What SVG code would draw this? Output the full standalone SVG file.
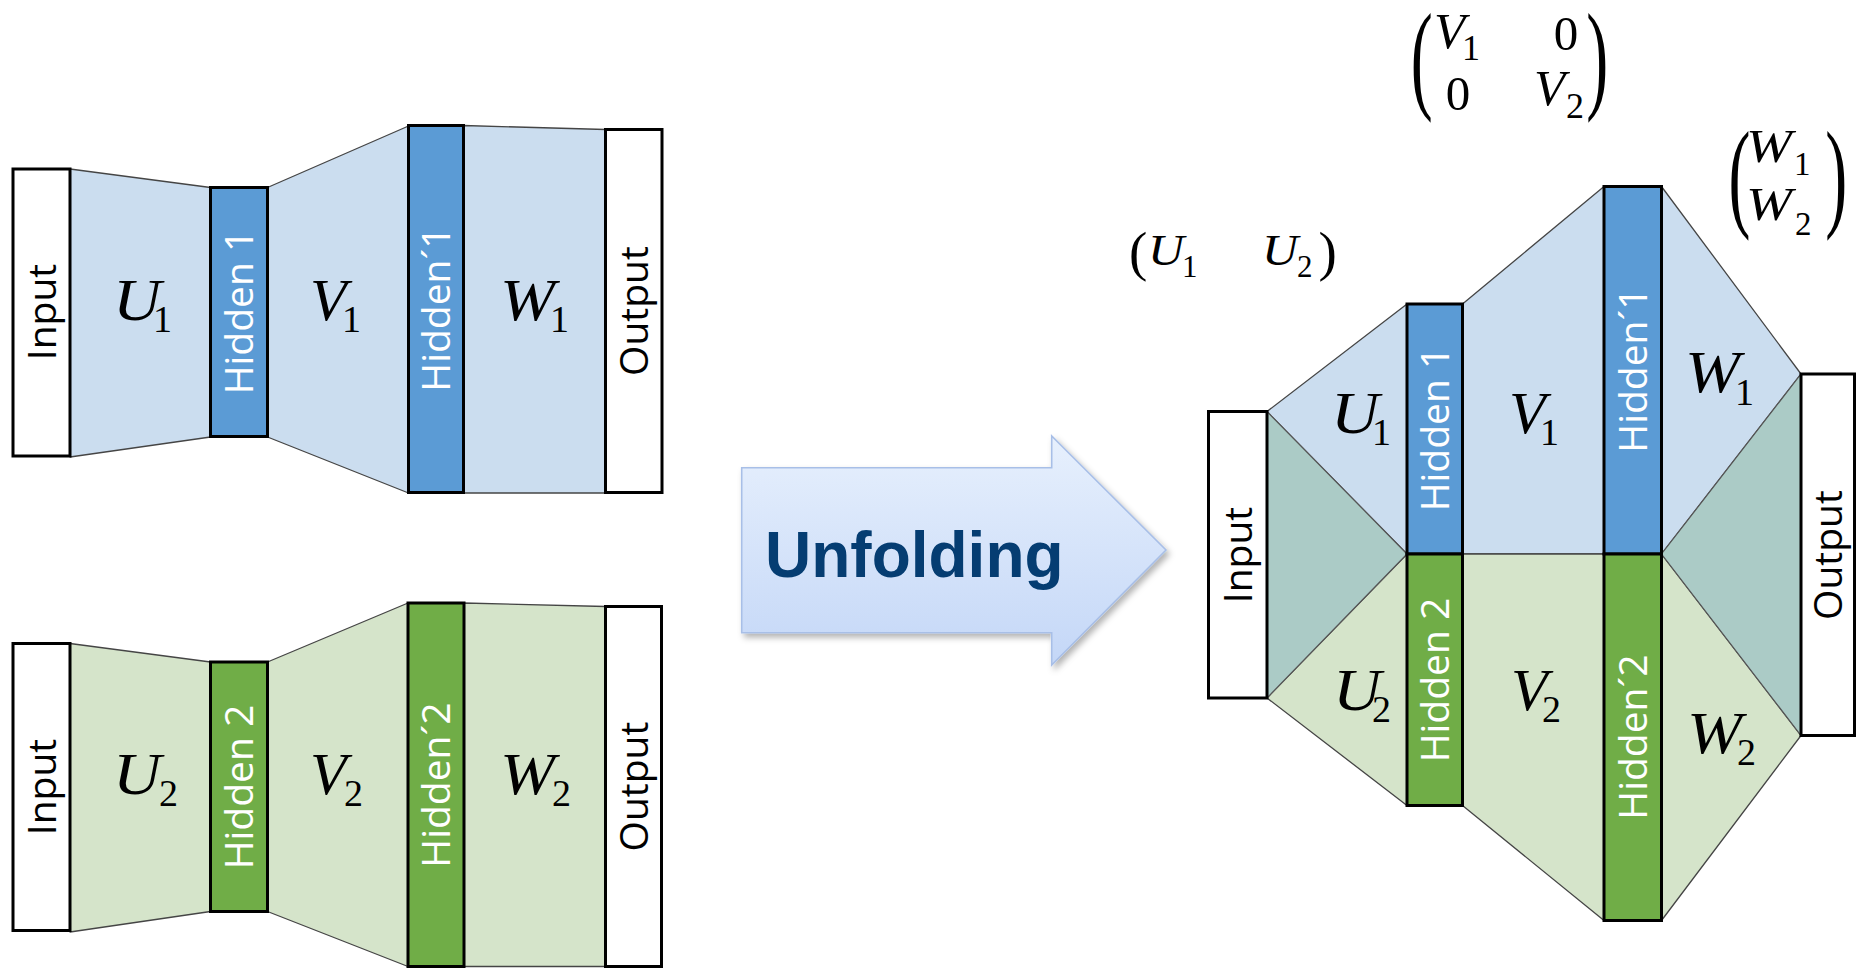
<svg xmlns="http://www.w3.org/2000/svg" width="1858" height="970" viewBox="0 0 1858 970">
  <defs>
    <linearGradient id="arrowFill" x1="0" y1="0" x2="0" y2="1">
      <stop offset="0" stop-color="#E7F0FD"/>
      <stop offset="1" stop-color="#C4D7F7"/>
    </linearGradient>
    <filter id="softShadow" x="-10%" y="-10%" width="125%" height="130%">
      <feDropShadow dx="3" dy="4" stdDeviation="3" flood-color="#000" flood-opacity="0.3"/>
    </filter>
  </defs>
  <style>
    .box { stroke: #000; stroke-width: 3; }
    .io { fill: #fff; }
    .hb { fill: #5B9BD5; }
    .hg { fill: #70AD47; }
    .wb { fill: #CBDDEF; stroke: #454545; stroke-width: 1.3; stroke-linejoin: round; }
    .wg { fill: #D5E4CA; stroke: #454545; stroke-width: 1.3; stroke-linejoin: round; }
    .wt { fill: #ABCBC6; stroke: #555; stroke-width: 1.2; stroke-linejoin: round; }
    .lbl { font-family: "Open Sans", "Noto Sans", sans-serif; font-size: 39px; text-anchor: middle; fill: #000; }
    .wht { fill: #fff; }
    .m { font-family: "Liberation Serif", "Times New Roman", serif; font-style: italic; fill: #000; }
    .n { font-family: "Liberation Serif", "Times New Roman", serif; font-style: normal; fill: #000; }
    .big { font-size: 60px; }
    .sub38 { font-size: 38px; }
    .paren { font-family: "Liberation Serif", "Times New Roman", serif; font-size: 44px; fill: #000; }
  </style>

  <rect width="1858" height="970" fill="#fff"/>

  <!-- weight layers (connectors between layers) -->
  <g id="connectors">
    <!-- network 1 -->
    <polygon class="wb" points="70,169 210.5,187.5 210.5,437 70,457"/>
    <polygon class="wb" points="267.5,187.5 408.5,126 408.5,493 267.5,437"/>
    <polygon class="wb" points="463.5,125.5 605.5,129.5 605.5,493 463.5,493"/>
    <!-- network 2 -->
    <polygon class="wg" points="70,643.5 210.5,662 210.5,911.5 70,932"/>
    <polygon class="wg" points="267.5,662 408,603 408,966.5 267.5,911.5"/>
    <polygon class="wg" points="464,603 605.5,606.5 605.5,966.5 464,966.5"/>
    <!-- unfolded network -->
    <polygon class="wb" points="1267,411.5 1407,304 1462.5,304 1604,186.5 1661.5,186.5 1801,374 1661.5,554 1407,554"/>
    <polygon class="wg" points="1267,698 1407,554 1661.5,554 1801,735.5 1661.5,920.5 1604,920.5 1462.5,805.5 1407,805.5"/>
    <polygon class="wt" points="1267,411.5 1407,554 1267,698"/>
    <polygon class="wt" points="1801,374 1661.5,554 1801,735.5"/>
  </g>

  <!-- network 1 layers -->
  <g id="n1-input">
    <rect class="box io" x="13" y="169" width="57" height="287"/>
    <text class="lbl" transform="translate(41.5 312) rotate(-90)" y="14">Input</text>
  </g>
  <g id="n1-hidden">
    <rect class="box hb" x="210.5" y="187.5" width="57" height="249"/>
    <text class="lbl wht" transform="translate(239 312) rotate(-90)" y="14">Hidden 1</text>
  </g>
  <g id="n1-hidden-prime">
    <rect class="box hb" x="408.5" y="125.5" width="55" height="367"/>
    <text class="lbl wht" transform="translate(436 309) rotate(-90)" y="14">Hidden´1</text>
  </g>
  <g id="n1-output">
    <rect class="box io" x="605.5" y="129.5" width="56.5" height="363"/>
    <text class="lbl" transform="translate(633.5 311) rotate(-90)" y="14">Output</text>
  </g>

  <!-- network 2 layers -->
  <g id="n2-input">
    <rect class="box io" x="13" y="643.5" width="57" height="287"/>
    <text class="lbl" transform="translate(41.5 787) rotate(-90)" y="14">Input</text>
  </g>
  <g id="n2-hidden">
    <rect class="box hg" x="210.5" y="662" width="57" height="249.5"/>
    <text class="lbl wht" transform="translate(239 787) rotate(-90)" y="14">Hidden 2</text>
  </g>
  <g id="n2-hidden-prime">
    <rect class="box hg" x="408" y="603" width="56" height="363.5"/>
    <text class="lbl wht" transform="translate(436 785) rotate(-90)" y="14">Hidden´2</text>
  </g>
  <g id="n2-output">
    <rect class="box io" x="605.5" y="606.5" width="56" height="360"/>
    <text class="lbl" transform="translate(633.5 786.5) rotate(-90)" y="14">Output</text>
  </g>

  <!-- weight labels, networks 1 and 2 -->
  <g id="n1-weights">
    <text class="m big" x="113" y="320" textLength="48" lengthAdjust="spacingAndGlyphs">U</text>
    <text class="n sub38" x="153" y="331.7">1</text>
    <text class="m big" x="310" y="320">V</text>
    <text class="n sub38" x="342" y="331.7">1</text>
    <text class="m big" x="500" y="320" textLength="55" lengthAdjust="spacingAndGlyphs">W</text>
    <text class="n sub38" x="550" y="331.7">1</text>
  </g>
  <g id="n2-weights">
    <text class="m big" x="113" y="794" textLength="48" lengthAdjust="spacingAndGlyphs">U</text>
    <text class="n sub38" x="159" y="806">2</text>
    <text class="m big" x="310" y="794">V</text>
    <text class="n sub38" x="344" y="806">2</text>
    <text class="m big" x="500" y="794" textLength="55" lengthAdjust="spacingAndGlyphs">W</text>
    <text class="n sub38" x="552" y="806">2</text>
  </g>

  <!-- unfolding arrow -->
  <g id="unfolding-arrow">
    <polygon points="741.7,467.7 1051.7,467.7 1051.7,436 1166,550 1051.7,665 1051.7,632.7 741.7,632.7"
             fill="url(#arrowFill)" stroke="#A8BFE7" stroke-width="1.6" filter="url(#softShadow)"/>
    <text x="765" y="577" font-family="'Liberation Sans', Arial, sans-serif" font-weight="bold" font-size="64" fill="#053D72">Unfolding</text>
  </g>

  <!-- unfolded network layers -->
  <g id="u-input">
    <rect class="box io" x="1208.5" y="411.5" width="58.5" height="286.5"/>
    <text class="lbl" transform="translate(1238 555) rotate(-90)" y="14">Input</text>
  </g>
  <g id="u-hidden1">
    <rect class="box hb" x="1407" y="304" width="55.5" height="250"/>
    <text class="lbl wht" transform="translate(1435 429) rotate(-90)" y="14">Hidden 1</text>
  </g>
  <g id="u-hidden2">
    <rect class="box hg" x="1407" y="554" width="55.5" height="251.5"/>
    <text class="lbl wht" transform="translate(1435 680) rotate(-90)" y="14">Hidden 2</text>
  </g>
  <g id="u-hidden1-prime">
    <rect class="box hb" x="1604" y="186.5" width="57.5" height="367.5"/>
    <text class="lbl wht" transform="translate(1633 370) rotate(-90)" y="14">Hidden´1</text>
  </g>
  <g id="u-hidden2-prime">
    <rect class="box hg" x="1604" y="554" width="57.5" height="366.5"/>
    <text class="lbl wht" transform="translate(1633 737) rotate(-90)" y="14">Hidden´2</text>
  </g>
  <g id="u-output">
    <rect class="box io" x="1801" y="374" width="53.5" height="361.5"/>
    <text class="lbl" transform="translate(1828 555) rotate(-90)" y="14">Output</text>
  </g>

  <!-- weight labels, unfolded network -->
  <g id="u-weights">
    <text class="m big" x="1331" y="433" textLength="48" lengthAdjust="spacingAndGlyphs">U</text>
    <text class="n sub38" x="1372" y="445">1</text>
    <text class="m big" x="1509" y="433">V</text>
    <text class="n sub38" x="1540" y="445">1</text>
    <text class="m big" x="1685" y="392" textLength="55" lengthAdjust="spacingAndGlyphs">W</text>
    <text class="n sub38" x="1735" y="405">1</text>
    <text class="m big" x="1333" y="710" textLength="48" lengthAdjust="spacingAndGlyphs">U</text>
    <text class="n sub38" x="1372" y="721.7">2</text>
    <text class="m big" x="1511" y="710">V</text>
    <text class="n sub38" x="1542" y="721.7">2</text>
    <text class="m big" x="1687" y="753" textLength="55" lengthAdjust="spacingAndGlyphs">W</text>
    <text class="n sub38" x="1737" y="765">2</text>
  </g>

  <!-- combined weight matrices -->
  <g id="matrix-u">
    <text class="n" x="1129" y="270" font-size="55">(</text>
    <text class="m" x="1148" y="265" font-size="45" textLength="36" lengthAdjust="spacingAndGlyphs">U</text>
    <text class="n" x="1182" y="276.7" font-size="31">1</text>
    <text class="m" x="1262" y="265" font-size="45" textLength="36" lengthAdjust="spacingAndGlyphs">U</text>
    <text class="n" x="1297" y="276.7" font-size="31">2</text>
    <text class="n" x="1318.4" y="270" font-size="55">)</text>
  </g>
  <g id="matrix-v">
    <text class="paren" transform="translate(1422.3 65.5) scale(1.5 2.74)" x="-7.7" y="11.4">(</text>
    <text class="m" x="1434" y="48.3" font-size="51">V</text>
    <text class="n" x="1462" y="60" font-size="36">1</text>
    <text class="n" x="1566" y="50" font-size="49" text-anchor="middle">0</text>
    <text class="n" x="1458" y="110" font-size="49" text-anchor="middle">0</text>
    <text class="m" x="1534" y="105" font-size="51">V</text>
    <text class="n" x="1566" y="118" font-size="36">2</text>
    <text class="paren" transform="translate(1596.7 65.5) scale(1.5 2.74)" x="-6.9" y="11.4">)</text>
  </g>
  <g id="matrix-w">
    <text class="paren" transform="translate(1740 184.2) scale(1.5 2.74)" x="-7.7" y="11.4">(</text>
    <text class="m" x="1746" y="161.7" font-size="46" textLength="46" lengthAdjust="spacingAndGlyphs">W</text>
    <text class="n" x="1794" y="175" font-size="33">1</text>
    <text class="m" x="1746" y="220" font-size="46" textLength="46" lengthAdjust="spacingAndGlyphs">W</text>
    <text class="n" x="1795" y="235" font-size="33">2</text>
    <text class="paren" transform="translate(1835.5 184.2) scale(1.5 2.74)" x="-6.9" y="11.4">)</text>
  </g>
</svg>
